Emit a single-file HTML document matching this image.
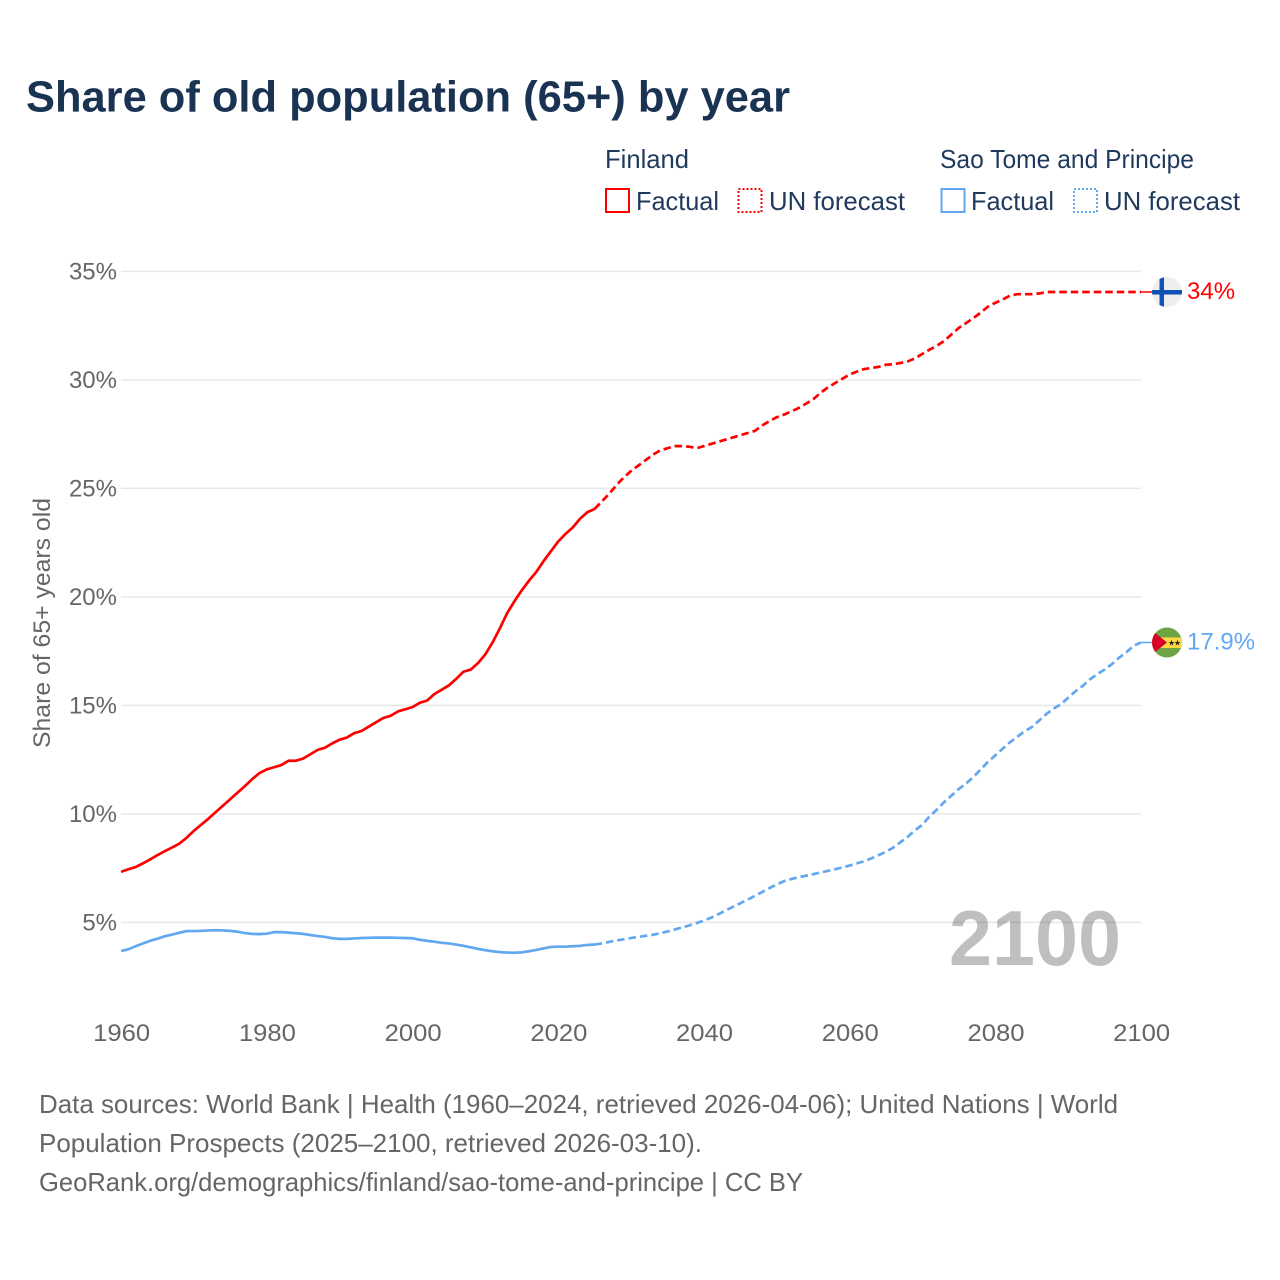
<!DOCTYPE html>
<html lang="en">
<head>
<meta charset="utf-8">
<title>Share of old population (65+) by year</title>
<style>
html,body{margin:0;padding:0;background:#fff;}
svg{display:block;font-family:"Liberation Sans",sans-serif;}
</style>
</head>
<body>
<svg id="chart" xmlns="http://www.w3.org/2000/svg" width="1280" height="1280" viewBox="0 0 1280 1280">
  <rect x="0" y="0" width="1280" height="1280" fill="#ffffff"/>
  <text x="26" y="111.500" font-size="44" font-weight="700" fill="#1a3353" textLength="764" lengthAdjust="spacingAndGlyphs">Share of old population (65+) by year</text>

  <g font-size="26" fill="#1f3a5c">
    <text x="605" y="168" textLength="84" lengthAdjust="spacingAndGlyphs">Finland</text>
    <rect x="606" y="189" width="23" height="23" fill="none" stroke="#ff0000" stroke-width="2"/>
    <text x="636" y="210" textLength="83" lengthAdjust="spacingAndGlyphs">Factual</text>
    <rect x="738.500" y="189" width="23" height="23" fill="none" stroke="#ff0000" stroke-width="2" stroke-dasharray="2 2"/>
    <text x="769" y="210" textLength="136" lengthAdjust="spacingAndGlyphs">UN forecast</text>
    <text x="940" y="168" textLength="254" lengthAdjust="spacingAndGlyphs">Sao Tome and Principe</text>
    <rect x="941.500" y="189" width="23" height="23" fill="none" stroke="#62a8ef" stroke-width="2"/>
    <text x="971" y="210" textLength="83" lengthAdjust="spacingAndGlyphs">Factual</text>
    <rect x="1074" y="189" width="23" height="23" fill="none" stroke="#62a8ef" stroke-width="2" stroke-dasharray="2 2"/>
    <text x="1104" y="210" textLength="136" lengthAdjust="spacingAndGlyphs">UN forecast</text>
  </g>

  <text transform="translate(50,623) rotate(-90)" text-anchor="middle" font-size="24" fill="#666666" textLength="250" lengthAdjust="spacingAndGlyphs">Share of 65+ years old</text>

  <g id="grid"></g>
  <g id="y-ticks"></g>
  <g id="x-ticks"></g>

  <text x="949" y="965" font-size="78" font-weight="700" fill="#000000" fill-opacity="0.25" textLength="172" lengthAdjust="spacingAndGlyphs">2100</text>

  <g id="series"></g>

  <g id="flag-finland">
    <defs>
      <clipPath id="flag-clip"><circle cx="0" cy="0" r="15"/></clipPath>
    </defs>
    <g clip-path="url(#flag-clip)">
      <rect x="-15" y="-15" width="30" height="30" fill="#eeeeee"/>
      <rect x="-7.500" y="-15" width="4.500" height="30" fill="#0d52b5"/>
      <rect x="-15" y="-2" width="30" height="4.500" fill="#0d52b5"/>
    </g>
  </g>
  <g id="flag-sao-tome">
    <g clip-path="url(#flag-clip)">
      <rect x="-15" y="-15" width="30" height="30" fill="#6da544"/>
      <rect x="-15" y="-5" width="30" height="10.500" fill="#ffda44"/>
      <polygon points="-15,-12 0,0 -15,12" fill="#d80027"/>
      <text x="1" y="3" font-size="8" fill="#222222" font-family="'DejaVu Sans',sans-serif" textLength="13" lengthAdjust="spacing">★★</text>
    </g>
  </g>

  <g id="end-labels"></g>

  <g font-size="26" fill="#666666">
    <text x="39" y="1113" textLength="1079" lengthAdjust="spacingAndGlyphs">Data sources: World Bank | Health (1960–2024, retrieved 2026-04-06); United Nations | World</text>
    <text x="39" y="1152" textLength="663" lengthAdjust="spacingAndGlyphs">Population Prospects (2025–2100, retrieved 2026-03-10).</text>
    <text x="39" y="1191" textLength="764" lengthAdjust="spacingAndGlyphs">GeoRank.org/demographics/finland/sao-tome-and-principe | CC BY</text>
  </g>
</svg>
<script>
const years = [
1960,1961,1962,1963,1964,1965,1966,1967,1968,1969,
1970,1971,1972,1973,1974,1975,1976,1977,1978,1979,
1980,1981,1982,1983,1984,1985,1986,1987,1988,1989,
1990,1991,1992,1993,1994,1995,1996,1997,1998,1999,
2000,2001,2002,2003,2004,2005,2006,2007,2008,2009,
2010,2011,2012,2013,2014,2015,2016,2017,2018,2019,
2020,2021,2022,2023,2024,2025,2026,2027,2028,2029,
2030,2031,2032,2033,2034,2035,2036,2037,2038,2039,
2040,2041,2042,2043,2044,2045,2046,2047,2048,2049,
2050,2051,2052,2053,2054,2055,2056,2057,2058,2059,
2060,2061,2062,2063,2064,2065,2066,2067,2068,2069,
2070,2071,2072,2073,2074,2075,2076,2077,2078,2079,
2080,2081,2082,2083,2084,2085,2086,2087,2088,2089,
2090,2091,2092,2093,2094,2095,2096,2097,2098,2099,
2100];
const finlandValues = [
7.33,7.45,7.55,7.72,7.9,8.1,8.28,8.45,8.63,8.9,
9.22,9.5,9.78,10.08,10.38,10.68,10.98,11.28,11.6,11.88,
12.05,12.15,12.25,12.45,12.45,12.55,12.75,12.95,13.05,13.25,
13.42,13.52,13.72,13.82,14.02,14.22,14.42,14.52,14.72,14.82,
14.92,15.12,15.22,15.52,15.72,15.92,16.22,16.55,16.65,16.95,
17.35,17.9,18.55,19.25,19.8,20.3,20.75,21.15,21.65,22.1,
22.55,22.9,23.2,23.6,23.9,24.05,24.4,24.75,25.15,25.5,
25.8,26.05,26.3,26.55,26.75,26.85,26.95,26.95,26.92,26.85,
26.95,27.05,27.15,27.25,27.35,27.45,27.55,27.65,27.9,28.1,
28.28,28.4,28.55,28.7,28.9,29.1,29.4,29.65,29.85,30.05,
30.25,30.38,30.5,30.55,30.6,30.7,30.72,30.78,30.85,31.0,
31.2,31.4,31.58,31.8,32.1,32.4,32.62,32.85,33.1,33.38,
33.55,33.7,33.88,33.95,33.95,33.95,33.98,34.05,34.05,34.05,
34.05,34.05,34.05,34.05,34.05,34.05,34.05,34.05,34.05,34.05,
34.05];
const saoTomeValues = [
3.68,3.76,3.9,4.03,4.15,4.25,4.36,4.44,4.52,4.6,
4.6,4.61,4.63,4.64,4.63,4.61,4.57,4.51,4.47,4.46,
4.48,4.55,4.55,4.53,4.5,4.47,4.42,4.37,4.33,4.27,
4.24,4.24,4.26,4.28,4.29,4.3,4.3,4.3,4.29,4.28,
4.27,4.2,4.15,4.11,4.06,4.03,3.98,3.92,3.85,3.78,
3.72,3.67,3.63,3.61,3.6,3.62,3.67,3.73,3.8,3.87,
3.88,3.88,3.9,3.92,3.96,3.98,4.03,4.1,4.17,4.22,
4.28,4.33,4.38,4.43,4.5,4.58,4.67,4.77,4.86,4.97,
5.08,5.22,5.38,5.55,5.72,5.88,6.05,6.22,6.4,6.58,
6.75,6.9,7.0,7.08,7.15,7.22,7.3,7.37,7.45,7.53,
7.62,7.72,7.82,7.95,8.1,8.25,8.45,8.7,8.95,9.25,
9.5,9.9,10.2,10.55,10.85,11.15,11.4,11.7,12.05,12.4,
12.7,13.0,13.3,13.55,13.8,14.0,14.3,14.6,14.85,15.05,
15.35,15.65,15.9,16.2,16.45,16.65,16.9,17.2,17.45,17.75,
17.9];
const lastFactualYear = 2025;
const yTickValues = [5,10,15,20,25,30,35];
const yTickLabels = ["5%","10%","15%","20%","25%","30%","35%"];
const xTickValues = [1960,1980,2000,2020,2040,2060,2080,2100];
const xTickLabels = ["1960","1980","2000","2020","2040","2060","2080","2100"];
const endLabels = ["34%","17.9%"];

const NS = "http://www.w3.org/2000/svg";
function xScale(year){ return 121 + (year - 1960) * (1020 / 140); }
function yScale(v){ return 922.4 - (v - 5) * (651 / 30); }
function make(tag, attrs, parent){
  const el = document.createElementNS(NS, tag);
  for (const k in attrs) el.setAttribute(k, attrs[k]);
  parent.appendChild(el);
  return el;
}
function pathFor(vals, fromYear, toYear){
  const pts = [];
  years.forEach(function(y, i){
    if (y >= fromYear && y <= toYear) pts.push(xScale(y).toFixed(2) + "," + yScale(vals[i]).toFixed(2));
  });
  return "M" + pts.join("L");
}

const grid = document.getElementById("grid");
const yTicksG = document.getElementById("y-ticks");
yTickValues.forEach(function(v, i){
  const line = make("line", {x1:121, x2:1141, y1:yScale(v), y2:yScale(v), stroke:"#e8e8e8", "stroke-width":1.5}, grid);
  
  
  const t = make("text", {x:117, y:yScale(v)+8, "text-anchor":"end", "font-size":24, fill:"#666666"}, yTicksG);
  
  
  t.textContent = yTickLabels[i];
});

const xTicksG = document.getElementById("x-ticks");
xTickValues.forEach(function(v, i){
  const t = make("text", {x:xScale(v)+0.7, y:1041, "text-anchor":"middle", "font-size":24, fill:"#666666", textLength:57, lengthAdjust:"spacingAndGlyphs"}, xTicksG);
  
  
  t.textContent = xTickLabels[i];
});

const seriesG = document.getElementById("series");
const firstYear = years[0];
const finalYear = years[years.length - 1];

const finFact = make("path", {d:pathFor(finlandValues, firstYear, lastFactualYear), fill:"none", stroke:"#ff0000", "stroke-width":2.7, "stroke-linejoin":"round"}, seriesG);


const finFore = make("path", {d:pathFor(finlandValues, lastFactualYear, finalYear), fill:"none", stroke:"#ff0000", "stroke-width":2.7, "stroke-dasharray":"7.5 4", "stroke-linejoin":"round"}, seriesG);


const stpFact = make("path", {d:pathFor(saoTomeValues, firstYear, lastFactualYear), fill:"none", stroke:"#62a8ef", "stroke-width":2.7, "stroke-linejoin":"round"}, seriesG);


const stpFore = make("path", {d:pathFor(saoTomeValues, lastFactualYear, finalYear), fill:"none", stroke:"#62a8ef", "stroke-width":2.7, "stroke-dasharray":"7.5 4", "stroke-linejoin":"round"}, seriesG);



const finEndY = yScale(finlandValues[finlandValues.length - 1]);
const stpEndY = yScale(saoTomeValues[saoTomeValues.length - 1]);
const markerX = xScale(finalYear) + 26;

const finConnector = make("line", {x1:xScale(finalYear), x2:markerX - 15, y1:finEndY, y2:finEndY, stroke:"#ff0000", "stroke-width":1.5}, seriesG);


const stpConnector = make("line", {x1:xScale(finalYear), x2:markerX - 15, y1:stpEndY, y2:stpEndY, stroke:"#62a8ef", "stroke-width":1.5}, seriesG);



document.getElementById("flag-finland").setAttribute("transform", "translate(" + markerX + "," + finEndY + ")");
document.getElementById("flag-sao-tome").setAttribute("transform", "translate(" + markerX + "," + stpEndY + ")");

const endG = document.getElementById("end-labels");
const finLabel = make("text", {x:markerX + 20, y:finEndY + 7, "font-size":24, fill:"#ff0000"}, endG);


finLabel.textContent = endLabels[0];
const stpLabel = make("text", {x:markerX + 20, y:stpEndY + 7, "font-size":24, fill:"#62a8ef"}, endG);


stpLabel.textContent = endLabels[1];
</script>
</body>
</html>
